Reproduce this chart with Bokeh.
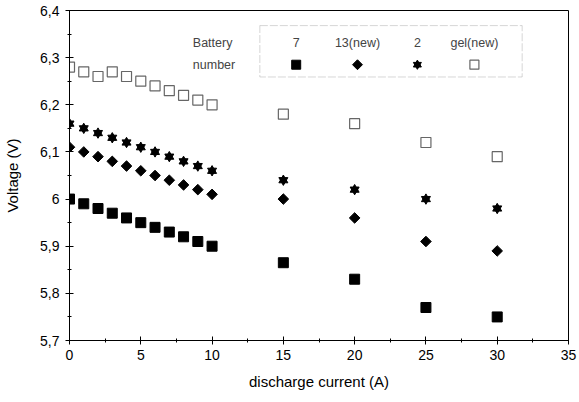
import math
from bokeh.plotting import figure
from bokeh.models import Range1d, FixedTicker, CustomJSTickFormatter, Label, BoxAnnotation
from bokeh.embed import file_html
from bokeh.resources import INLINE

current = [0, 1, 2, 3, 4, 5, 6, 7, 8, 9, 10, 15, 20, 25, 30]
bat7 = [6.00, 5.99, 5.98, 5.97, 5.96, 5.95, 5.94, 5.93, 5.92, 5.91, 5.90, 5.865, 5.83, 5.77, 5.75]
bat13 = [6.11, 6.10, 6.09, 6.08, 6.07, 6.06, 6.05, 6.04, 6.03, 6.02, 6.01, 6.00, 5.96, 5.91, 5.89]
bat2 = [6.16, 6.15, 6.14, 6.13, 6.12, 6.11, 6.10, 6.09, 6.08, 6.07, 6.06, 6.04, 6.02, 6.00, 5.98]
gel = [6.28, 6.27, 6.26, 6.27, 6.26, 6.25, 6.24, 6.23, 6.22, 6.21, 6.20, 6.18, 6.16, 6.12, 6.09]

legend_labels = ["7", "13(new)", "2", "gel(new)"]
legend_x = [15.9, 20.2, 24.4, 28.4]

x_ticks = [0, 5, 10, 15, 20, 25, 30, 35]
y_ticks = [5.7, 5.8, 5.9, 6.0, 6.1, 6.2, 6.3, 6.4]

FONT = "Liberation Sans"

p = figure(width=579, height=402, output_backend="svg", toolbar_location=None,
           x_range=Range1d(0, 35), y_range=Range1d(5.7, 6.4),
           min_border_left=69, min_border_right=11, min_border_top=10, min_border_bottom=62)
p.frame_width = 499
p.frame_height = 330
p.grid.visible = False
p.outline_line_color = "black"
p.outline_line_width = 1
p.background_fill_color = "white"
p.border_fill_color = "white"

p.xaxis.ticker = FixedTicker(ticks=x_ticks, minor_ticks=[2.5 + 5 * i for i in range(7)])
p.yaxis.ticker = FixedTicker(ticks=y_ticks, minor_ticks=[5.75 + 0.1 * i for i in range(7)])
p.yaxis.formatter = CustomJSTickFormatter(code="var s=(Math.round(tick*10)/10).toString(); return s.replace('.', ',');")

for ax in (p.xaxis[0], p.yaxis[0]):
    ax.axis_line_color = "black"
    ax.major_tick_in = 4
    ax.major_tick_out = 4
    ax.minor_tick_in = 2
    ax.minor_tick_out = 2
    ax.major_label_text_font = FONT
    ax.major_label_text_font_size = "14px"
    ax.major_label_text_color = "black"
    ax.axis_label_text_font = FONT
    ax.axis_label_text_font_size = "15px"
    ax.axis_label_text_font_style = "normal"
    ax.axis_label_text_color = "black"

p.xaxis.axis_label = "discharge current (A)"
p.yaxis.axis_label = "Voltage (V)"
p.xaxis.major_label_standoff = 5
p.xaxis.axis_label_standoff = 10
p.yaxis.major_label_standoff = 6
p.yaxis.axis_label_standoff = 16

# Data series
p.scatter(current, gel, marker="square", size=10, fill_color="white", line_color="#666666", line_width=1.2)
p.scatter(current, bat2, marker="triangle", size=9, fill_color="black", line_color="black")
p.scatter(current, bat2, marker="inverted_triangle", size=9, fill_color="black", line_color="black")
p.scatter(current, bat13, marker="square", angle=math.pi / 4, size=7.5, fill_color="black", line_color="black")
p.scatter(current, bat7, marker="square", size=10, fill_color="black", line_color="black")

# Legend box
p.add_layout(BoxAnnotation(left=13.35, right=31.75, top=6.368, bottom=6.259,
                           fill_alpha=0, line_color="#777777", line_width=1, line_dash="8 2"))
p.add_layout(Label(x=8.65, y=6.332, text="Battery", text_font=FONT, text_font_size="12.5px",
                   text_baseline="middle", text_align="left"))
p.add_layout(Label(x=8.65, y=6.285, text="number", text_font=FONT, text_font_size="12.5px",
                   text_baseline="middle", text_align="left"))
for lx, lt in zip(legend_x, legend_labels):
    p.add_layout(Label(x=lx, y=6.332, text=lt, text_font=FONT, text_font_size="12.5px",
                       text_baseline="middle", text_align="center"))

ly = 6.285
p.scatter([legend_x[0]], [ly], marker="square", size=9, fill_color="black", line_color="black")
p.scatter([legend_x[1]], [ly], marker="square", angle=math.pi / 4, size=7, fill_color="black", line_color="black")
p.scatter([legend_x[2]], [ly], marker="triangle", size=8, fill_color="black", line_color="black")
p.scatter([legend_x[2]], [ly], marker="inverted_triangle", size=8, fill_color="black", line_color="black")
p.scatter([legend_x[3]], [ly], marker="square", size=9, fill_color="white", line_color="#666666", line_width=1.2)

open("out.html", "w").write(file_html(p, INLINE))
